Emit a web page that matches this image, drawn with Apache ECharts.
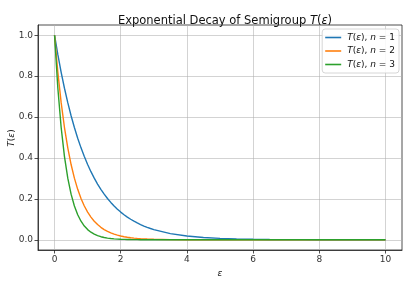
<!DOCTYPE html>
<html><head><meta charset="utf-8">
<script src="https://cdn.jsdelivr.net/npm/echarts@6/dist/echarts.min.js"></script>
<style>html,body{margin:0;padding:0;background:#fff}#c{width:415px;height:281px}</style>
</head><body><div id="c"></div>
<script>
const epsilon = [0,0.1,0.2,0.3,0.4,0.5,0.6,0.7,0.8,0.9,1.0,1.1,1.2,1.3,1.4,1.5,1.6,1.7,1.8,1.9,2.0,2.1,2.2,2.3,2.4,2.5,2.6,2.7,2.8,2.9,3.0,3.5,4.0,4.5,5.0,5.5,6.0,6.5,7.0,7.5,8.0,8.5,9.0,9.5,10.0];
const tN1 = [1,0.9048,0.8187,0.7408,0.6703,0.6065,0.5488,0.4966,0.4493,0.4066,0.3679,0.3329,0.3012,0.2725,0.2466,0.2231,0.2019,0.1827,0.1653,0.1496,0.1353,0.1225,0.1108,0.1003,0.0907,0.0821,0.0743,0.0672,0.0608,0.0550,0.0498,0.0302,0.0183,0.0111,0.0067,0.0041,0.0025,0.0015,0.0009,0.0006,0.0003,0.0002,0.0001,0.0001,0.0000];
const tN2 = [1,0.8187,0.6703,0.5488,0.4493,0.3679,0.3012,0.2466,0.2019,0.1653,0.1353,0.1108,0.0907,0.0743,0.0608,0.0498,0.0408,0.0334,0.0273,0.0224,0.0183,0.0150,0.0123,0.0101,0.0082,0.0067,0.0055,0.0045,0.0037,0.0030,0.0025,0.0009,0.0003,0.0001,0,0,0,0,0,0,0,0,0,0,0];
const tN3 = [1,0.7408,0.5488,0.4066,0.3012,0.2231,0.1653,0.1225,0.0907,0.0672,0.0498,0.0369,0.0273,0.0202,0.0150,0.0111,0.0082,0.0061,0.0045,0.0033,0.0025,0.0018,0.0014,0.0010,0.0007,0.0006,0.0004,0.0003,0.0002,0.0002,0.0001,0,0,0,0,0,0,0,0,0,0,0,0,0,0];
const xTicks = [0,2,4,6,8,10];
const yTicks = [0,0.2,0.4,0.6,0.8,1.0];
const seriesNames = ['n = 1','n = 2','n = 3'];
const colors = ['#1f77b4','#ff7f0e','#2ca02c'];
const values = [tN1,tN2,tN3];

const FONT = 'DejaVu Sans';
const chart = echarts.init(document.getElementById('c'), null, {renderer:'canvas'});
const mk = arr => epsilon.map((e,i)=>[e,arr[i]]);
const option = {
  animation:false,
  backgroundColor:'#fff',
  title:{
    text:'Exponential Decay of Semigroup {i|T}({i|ε})',
    left:220, top:10, textAlign:'center',
    textStyle:{fontFamily:FONT,fontSize:11.5,fontWeight:'normal',color:'#111',
      rich:{i:{fontFamily:FONT,fontSize:11.5,fontStyle:'italic',color:'#111'}}}
  },
  graphic:[{
    type:'text', x:12, y:138, rotation:Math.PI/2,
    style:{text:'{i|T}({i|ε})', align:'center', verticalAlign:'middle',
      fontFamily:FONT, fontSize:9, fill:'#222',
      rich:{i:{fontFamily:FONT,fontSize:9,fontStyle:'italic',fill:'#222',color:'#222'}}}
  }],
  grid:{left:38,right:13,top:25,bottom:31,show:true,borderColor:'#222',borderWidth:0.8,
    containLabel:false,outerBoundsMode:'none'},
  legend:{
    orient:'vertical', right:16, top:29, padding:[4,4,4,3], itemGap:4.5,
    itemWidth:16, itemHeight:1.6, icon:'rect', align:'left',
    backgroundColor:'rgba(255,255,255,0.85)', borderColor:'#ccc', borderWidth:0.8, borderRadius:3,
    data:seriesNames,
    formatter: n => '{i|T}({i|ε}), {i|n} ' + n.slice(2),
    textStyle:{fontFamily:FONT,fontSize:9,color:'#111',padding:[0,0,0,1],
      rich:{i:{fontFamily:FONT,fontSize:9,fontStyle:'italic',color:'#111'}}}
  },
  xAxis:{
    type:'value', min:-0.5, max:10.5,
    name:'ε', nameLocation:'middle', nameGap:19,
    nameTextStyle:{fontFamily:FONT,fontSize:9,fontStyle:'italic',color:'#222'},
    axisLine:{show:true,onZero:false,lineStyle:{color:'#222',width:0.8}},
    axisTick:{show:true,length:3.5,lineStyle:{color:'#222',width:0.8},customValues:xTicks},
    axisLabel:{fontFamily:FONT,fontSize:9,color:'#333',margin:5,customValues:xTicks},
    splitLine:{show:true,lineStyle:{color:'#b0b0b0',width:0.8,opacity:0.7}}
  },
  yAxis:{
    type:'value', min:-0.05, max:1.05,
    axisLine:{show:true,onZero:false,lineStyle:{color:'#222',width:0.8}},
    axisTick:{show:true,length:3.5,lineStyle:{color:'#222',width:0.8},customValues:yTicks},
    axisLabel:{fontFamily:FONT,fontSize:9,color:'#333',margin:5,customValues:yTicks,
      formatter:v=>v.toFixed(1)},
    splitLine:{show:true,lineStyle:{color:'#b0b0b0',width:0.8,opacity:0.7}}
  },
  series: seriesNames.map((n,k)=>({
    name:n, type:'line', data:mk(values[k]), showSymbol:false, symbol:'none',
    smooth:false,
    lineStyle:{color:colors[k],width:1.4}, itemStyle:{color:colors[k]}
  }))
};
chart.setOption(option);
</script></body></html>
